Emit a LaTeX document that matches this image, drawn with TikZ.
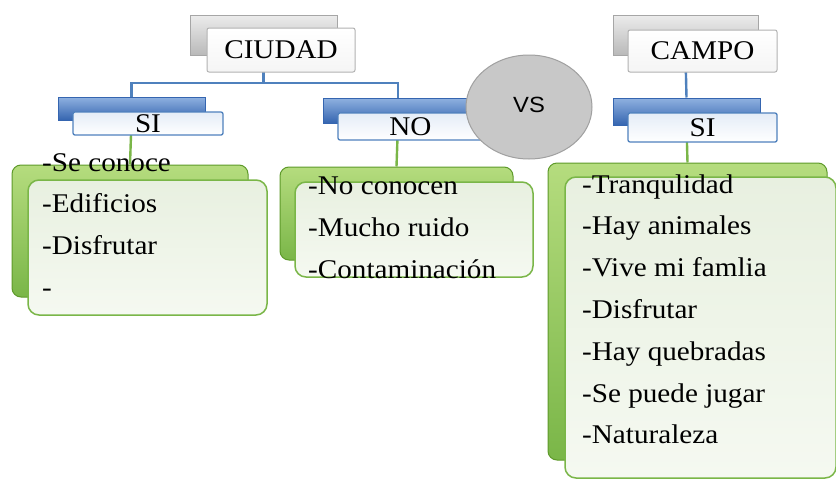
\documentclass[tikz,border=0pt]{standalone}
\usepackage{fontspec}
\setmainfont{Liberation Serif}[FakeStretch=1.08]
\newfontfamily\vsfont{Liberation Sans}[FakeStretch=1.08]
\usetikzlibrary{shapes.geometric}
\definecolor{cblue}{HTML}{4F81BD}
\definecolor{cblueL}{HTML}{8FB1E0}
\definecolor{cblueD}{HTML}{3565B0}
\definecolor{cblueT}{HTML}{E4ECF7}
\definecolor{cgreen}{HTML}{7AB648}
\definecolor{cgreenL}{HTML}{B5DC7E}
\definecolor{cgreenD}{HTML}{5E9A2A}
\definecolor{cgreenT}{HTML}{E8F0E0}
\definecolor{cgreenW}{HTML}{F5F9F1}
\definecolor{cvs}{HTML}{C8C8C8}
\definecolor{cvsD}{HTML}{A0A0A0}
\tikzset{
 every node/.style={inner sep=0pt, font=\fontsize{27}{31}\selectfont},
 backgray/.style={rectangle, draw=gray!70, top color=gray!15, bottom color=gray!55, line width=1pt},
 frontgray/.style={rectangle, rounded corners=2pt, draw=gray!60, top color=white, bottom color=gray!8, line width=1pt},
 backblue/.style={rectangle, draw=cblueD, top color=cblueL, bottom color=cblueD, line width=1pt},
 frontblue/.style={rectangle, rounded corners=2pt, draw=cblue, top color=cblueT, bottom color=white, line width=1.3pt},
 backgreen/.style={rectangle, rounded corners=9pt, draw=cgreenD, top color=cgreenL, bottom color=cgreen, line width=1pt},
 frontgreen/.style={rectangle, rounded corners=11pt, draw=cgreen, top color=cgreenT, bottom color=cgreenW, line width=1.5pt},
 bline/.style={draw=cblue, line width=2.4pt},
 gline/.style={draw=cgreen, line width=2.4pt},
 item/.style={anchor=base west, text=black},
}
\begin{document}
\begin{tikzpicture}[x=1pt,y=-1pt]
\fill[white] (0,0) rectangle (836,480);
\path[use as bounding box] (0,0) rectangle (836,480);
\coordinate (hub) at (263.5,83);
% back boxes
\node[backgray, minimum width=147, minimum height=40] (ciudadB) at (263.5,35) {};
\node[backgray, minimum width=145, minimum height=40] (campoB) at (685.5,35) {};
\node[backblue, minimum width=147, minimum height=23] (siB) at (131.5,108.5) {};
\node[backblue, minimum width=150, minimum height=25] (noB) at (398,110.5) {};
\node[backblue, minimum width=147, minimum height=27] (si2B) at (686.5,111.5) {};
\node[backgreen, minimum width=236, minimum height=132] (g1B) at (130,231) {};
\node[backgreen, minimum width=233, minimum height=93] (g2B) at (396.5,213.5) {};
\node[backgreen, minimum width=279, minimum height=297] (g3B) at (687.5,311.5) {};
% connectors
\draw[bline] (ciudadB.south) -- (hub);
\draw[bline] (siB.north) |- (hub) -| (noB.north);
\draw[bline] (campoB.south) -- (si2B.north);
\draw[gline] (siB.south) -- (g1B.north);
\draw[gline] (noB.south) -- (g2B.north);
\draw[gline] (si2B.south) -- (g3B.north);
% front boxes
\node[frontgray, minimum width=148, minimum height=44] (ciudad) at (281,50) {CIUDAD};
\node[frontgray, minimum width=149, minimum height=42] (campo) at (702.5,51) {CAMPO};
\node[frontblue, minimum width=150, minimum height=23] (si) at (148,123.5) {SI};
\node[frontblue, minimum width=145, minimum height=27] (no) at (410.5,126.5) {NO};
\node[frontblue, minimum width=149, minimum height=29] (si2) at (702.5,127.5) {SI};
\node[frontgreen, minimum width=239, minimum height=135] (g1) at (147.5,247.5) {};
\node[frontgreen, minimum width=238, minimum height=95] (g2) at (414,229.5) {};
\node[frontgreen, minimum width=271, minimum height=301] (g3) at (700.5,327.5) {};
% VS
\node[ellipse, draw=cvsD, fill=cvs, line width=1pt, minimum width=126, minimum height=104,
      font=\vsfont\fontsize{22}{26}\selectfont] (vs) at (529,107) {\raisebox{5pt}{VS}};
% items
\foreach \t [count=\i] in {-Se conoce,-Edificios,-Disfrutar,-}
  \node[item] (l\i) at (42,{171+41.7*(\i-1)}) {\t};
\foreach \t [count=\i] in {-No conocen,-Mucho ruido,-Contaminación}
  \node[item] (m\i) at (308,{194+42*(\i-1)}) {\t};
\foreach \t [count=\i] in {-Tranqulidad,-Hay animales,-Vive mi famlia,-Disfrutar,-Hay quebradas,-Se puede jugar,-Naturaleza}
  \node[item] (r\i) at (582,{193+41.8*(\i-1)}) {\t};
\end{tikzpicture}
\end{document}
